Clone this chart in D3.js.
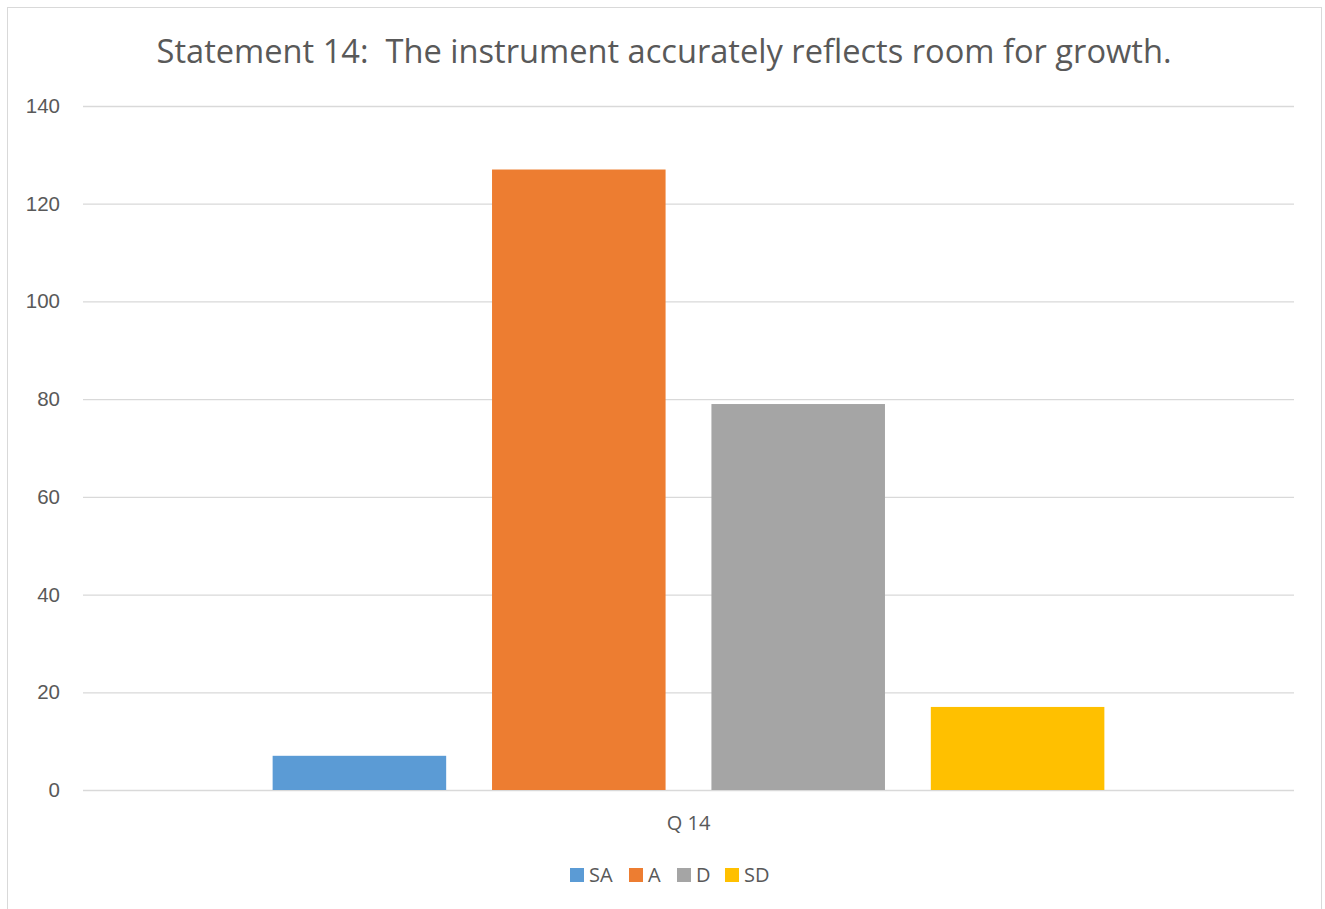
<!DOCTYPE html>
<html>
<head>
<meta charset="utf-8">
<script src="https://cdn.jsdelivr.net/npm/d3@7"></script>
<style>
  body { margin: 0; background: #fff; }
  svg { display: block; font-family: "Open Sans", Lato, sans-serif; }
  text { white-space: pre; }
</style>
</head>
<body>
<div id="chart"></div>
<script>
'use strict'

// data
const categories = ['Q 14']
const series = ['SA', 'A', 'D', 'SD']
const values = [7, 127, 79, 17]
const colors = ['#5b9bd5', '#ed7d31', '#a5a5a5', '#ffc000']
const yTicks = [0, 20, 40, 60, 80, 100, 120, 140]
const title = 'Statement 14:  The instrument accurately reflects room for growth.'

const width = 1325
const height = 909
const margin = { top: 106, right: 31, bottom: 119, left: 83 }

const svg = d3.select('#chart').append('svg')
  .attr('width', width)
  .attr('height', height)

// chart border
svg.append('rect')
  .attr('x', 7.5).attr('y', 7.5)
  .attr('width', 1314).attr('height', 910)
  .attr('fill', '#fff')
  .attr('stroke', '#d9d9d9')

const y = d3.scaleLinear().domain([0, 140]).range([height - margin.bottom, margin.top])

const x0 = d3.scaleBand().domain(categories)
  .range([margin.left, width - margin.right])
  .paddingOuter(0.228)

const x1 = d3.scaleBand().domain(series)
  .range([0, x0.bandwidth()])
  .paddingInner(0.209)

// gridlines + tick labels
const yAxis = svg.append('g')
  .attr('transform', 'translate(' + margin.left + ',0)')
  .call(d3.axisLeft(y).tickValues(yTicks).tickSize(-(width - margin.left - margin.right)).tickPadding(23))
yAxis.select('.domain').remove()
yAxis.selectAll('.tick line').attr('stroke', '#d9d9d9').attr('stroke-width', 1.3)
yAxis.selectAll('.tick text')
  .attr('fill', '#595959')
  .style('font-size', '20.5px')

// bars
const group = svg.append('g')
  .selectAll('g')
  .data(categories)
  .join('g')
  .attr('transform', d => 'translate(' + x0(d) + ',0)')

group.selectAll('rect')
  .data(series.map((s, i) => ({ key: s, value: values[i], color: colors[i] })))
  .join('rect')
  .attr('x', d => x1(d.key))
  .attr('y', d => y(d.value))
  .attr('width', x1.bandwidth())
  .attr('height', d => y(0) - y(d.value))
  .attr('fill', d => d.color)

// category label
svg.append('text')
  .attr('x', x0(categories[0]) + x0.bandwidth() / 2)
  .attr('y', 830)
  .attr('text-anchor', 'middle')
  .attr('fill', '#595959')
  .style('font-size', '20px')
  .text(categories[0])

// title, fitted to the width it has in the picture
const titleText = svg.append('text')
  .attr('x', 664)
  .attr('y', 63)
  .attr('text-anchor', 'middle')
  .attr('fill', '#595959')
  .style('font-size', '32px')
  .text(title)
const tw = titleText.node().getComputedTextLength()
titleText.style('font-size', (32 * 1015 / tw).toFixed(2) + 'px')

// legend
const legendX = [570, 629, 677, 725]
const legend = svg.append('g')
  .selectAll('g')
  .data(series)
  .join('g')
  .attr('transform', (d, i) => 'translate(' + legendX[i] + ',868)')
legend.append('rect')
  .attr('width', 14).attr('height', 14)
  .attr('fill', (d, i) => colors[i])
legend.append('text')
  .attr('x', 19).attr('y', 14)
  .attr('fill', '#595959')
  .style('font-size', '20px')
  .text(d => d)
</script>
</body>
</html>
